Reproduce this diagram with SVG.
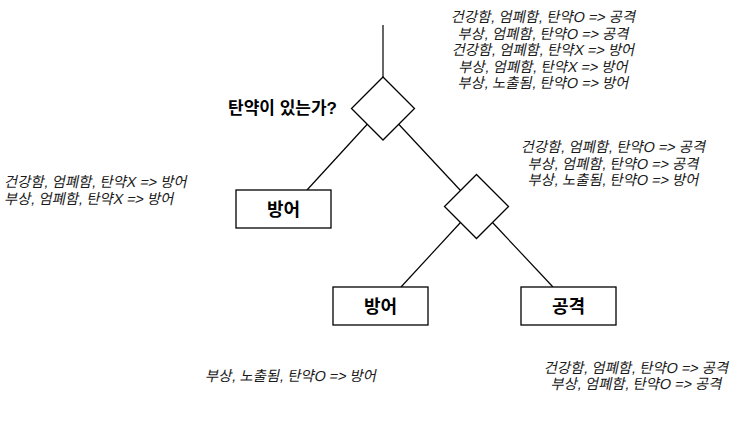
<svg xmlns="http://www.w3.org/2000/svg" width="750" height="426" viewBox="0 0 750 426">
<style>
.bg{fill:#ffffff}
.shape{fill:#ffffff;stroke:#000000;stroke-width:1.3}
.conn line{stroke:#000000;stroke-width:1.2}
.lbl{font-family:"Liberation Sans","Noto Sans CJK KR",sans-serif;font-weight:bold;font-size:18px;fill:#000000;text-anchor:middle}
.q{font-family:"Liberation Sans","Noto Sans CJK KR",sans-serif;font-weight:bold;font-size:17px;fill:#000000}
.note{font-family:"Liberation Sans","Noto Sans CJK KR",sans-serif;font-size:14.4px;fill:#1a1a1a}
.c{text-anchor:middle}
</style>
<rect class="bg" x="0" y="0" width="750" height="426"/>
<g id="connectors" class="conn">
<line x1="383" y1="25" x2="383" y2="77"/>
<line x1="367.25" y1="124.25" x2="307" y2="190"/>
<line x1="398.75" y1="124.25" x2="460.5" y2="190.5"/>
<line x1="460.5" y1="222.5" x2="401" y2="287"/>
<line x1="492.5" y1="222.5" x2="553" y2="287"/>
</g>
<g id="decision1">
<polygon class="shape" points="383,77 414.5,108.5 383,140 351.5,108.5"/>
<text class="q" x="337" y="114" text-anchor="end">탄약이 있는가?</text>
</g>
<g id="decision2">
<polygon class="shape" points="476.5,174.5 508.5,206.5 476.5,238.5 444.5,206.5"/>
</g>
<g id="defend1">
<rect class="shape" x="236" y="190" width="95" height="38"/>
<text class="lbl" x="283.5" y="215.5">방어</text>
</g>
<g id="defend2">
<rect class="shape" x="333" y="287" width="95" height="38"/>
<text class="lbl" x="380.5" y="312.5">방어</text>
</g>
<g id="attack">
<rect class="shape" x="521" y="287" width="95" height="38"/>
<text class="lbl" x="568.5" y="312.5">공격</text>
</g>
<g id="note-top" class="note c">
<text transform="translate(543,22) skewX(-12)">건강함, 엄폐함, 탄약O =&gt; 공격</text>
<text transform="translate(543,38.5) skewX(-12)">부상, 엄폐함, 탄약O =&gt; 공격</text>
<text transform="translate(543,55) skewX(-12)">건강함, 엄폐함, 탄약X =&gt; 방어</text>
<text transform="translate(543,71.5) skewX(-12)">부상, 엄폐함, 탄약X =&gt; 방어</text>
<text transform="translate(543,88) skewX(-12)">부상, 노출됨, 탄약O =&gt; 방어</text>
</g>
<g id="note-mid" class="note c">
<text transform="translate(613,152) skewX(-12)">건강함, 엄폐함, 탄약O =&gt; 공격</text>
<text transform="translate(613,168.5) skewX(-12)">부상, 엄폐함, 탄약O =&gt; 공격</text>
<text transform="translate(613,185) skewX(-12)">부상, 노출됨, 탄약O =&gt; 방어</text>
</g>
<g id="note-left" class="note">
<text transform="translate(4,187) skewX(-12)">건강함, 엄폐함, 탄약X =&gt; 방어</text>
<text transform="translate(4,203.5) skewX(-12)">부상, 엄폐함, 탄약X =&gt; 방어</text>
</g>
<g id="note-bottom-left" class="note">
<text transform="translate(205,381) skewX(-12)">부상, 노출됨, 탄약O =&gt; 방어</text>
</g>
<g id="note-bottom-right" class="note c">
<text transform="translate(636,373) skewX(-12)">건강함, 엄폐함, 탄약O =&gt; 공격</text>
<text transform="translate(636,389) skewX(-12)">부상, 엄폐함, 탄약O =&gt; 공격</text>
</g>
</svg>
